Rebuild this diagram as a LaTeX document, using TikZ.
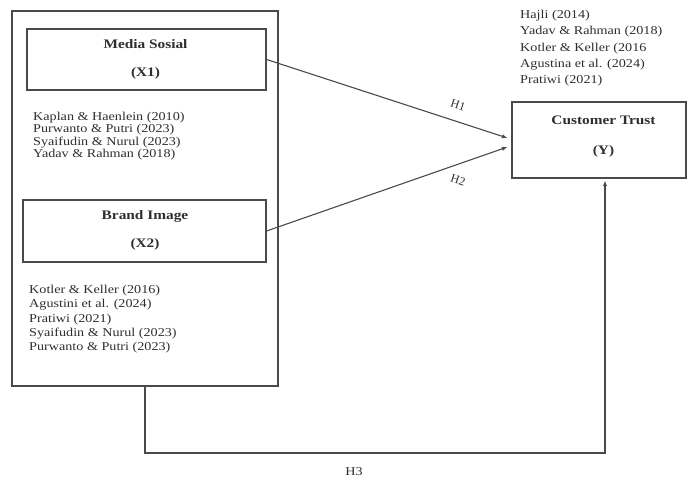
\documentclass[tikz,border=0pt]{standalone}
\usepackage{fontspec}
\setmainfont{Liberation Serif}
\usetikzlibrary{arrows.meta,calc}
\newcommand{\sx}[1]{\scalebox{1.18}[1]{#1}}
\definecolor{linec}{HTML}{4A4A4A}
\definecolor{textc}{HTML}{2E2E2E}
\begin{document}
\begin{tikzpicture}[x=1pt,y=-1pt,
  box/.style={draw=linec, line width=1.2pt, inner sep=0pt},
  lbl/.style={text=textc, align=center, inner sep=0pt, font=\fontsize{13}{28}\selectfont\bfseries},
  refs/.style={text=textc, align=left, inner sep=0pt, anchor=north west},
  hyp/.style={text=textc, inner sep=0pt, font=\fontsize{12}{13}\selectfont},
  conn/.style={draw=linec, line width=1.1pt, -{Latex[length=5.5pt,width=4.5pt]}}]
\useasboundingbox (0,0) rectangle (687,481);
% outer container
\node[box, minimum width=266pt, minimum height=375pt] (outer) at (145,198.5) {};
% construct boxes
\node[box, minimum width=239pt, minimum height=61pt] (x1) at (146.5,59.5) {};
\node[lbl] (x1lbl) at (145.5,59.2) {\sx{Media Sosial}\\\sx{(X1)}};
\node[box, minimum width=243pt, minimum height=62pt] (x2) at (144.5,231) {};
\node[lbl] (x2lbl) at (145,230.2) {\sx{Brand Image}\\\sx{(X2)}};
\node[box, minimum width=174pt, minimum height=76pt] (y) at (599,140) {};
\node[lbl, font=\fontsize{13}{30}\selectfont\bfseries] (ylbl) at (603.5,136.2) {\sx{Customer Trust}\\\sx{(Y)}};
% reference lists
\node[refs, font=\fontsize{12}{12.3}\selectfont] (r1) at (33,112) {\sx{Kaplan \& Haenlein (2010)}\\\sx{Purwanto \& Putri (2023)}\\\sx{Syaifudin \& Nurul (2023)}\\\sx{Yadav \& Rahman (2018)}};
\node[refs, font=\fontsize{12}{14.25}\selectfont] (r2) at (29,285) {\sx{Kotler \& Keller (2016)}\\\sx{Agustini et al. (2024)}\\\sx{Pratiwi (2021)}\\\sx{Syaifudin \& Nurul (2023)}\\\sx{Purwanto \& Putri (2023)}};
\node[refs, font=\fontsize{12}{16.25}\selectfont] (r3) at (520,10) {\sx{Hajli (2014)}\\\sx{Yadav \& Rahman (2018)}\\\sx{Kotler \& Keller (2016}\\\sx{Agustina et al. (2024)}\\\sx{Pratiwi (2021)}};
% connectors
\coordinate (t1) at ($(y.west)+(-4,-2)$);
\coordinate (t2) at ($(y.west)+(-4,7)$);
\draw[conn] (x1.east) -- (t1);
\draw[conn] (x2.east) -- (t2);
\coordinate (h3c) at (605,453);
\draw[conn, shorten >=2pt] (outer.south) |- (h3c) -- (y.south -| h3c);
% hypothesis labels
\node[hyp, rotate=-18] (h1) at (458,105) {H1};
\node[hyp, rotate=-18] (h2) at (458,180) {H2};
\node[hyp] (h3) at (354,472) {\sx{H3}};
\end{tikzpicture}
\end{document}
